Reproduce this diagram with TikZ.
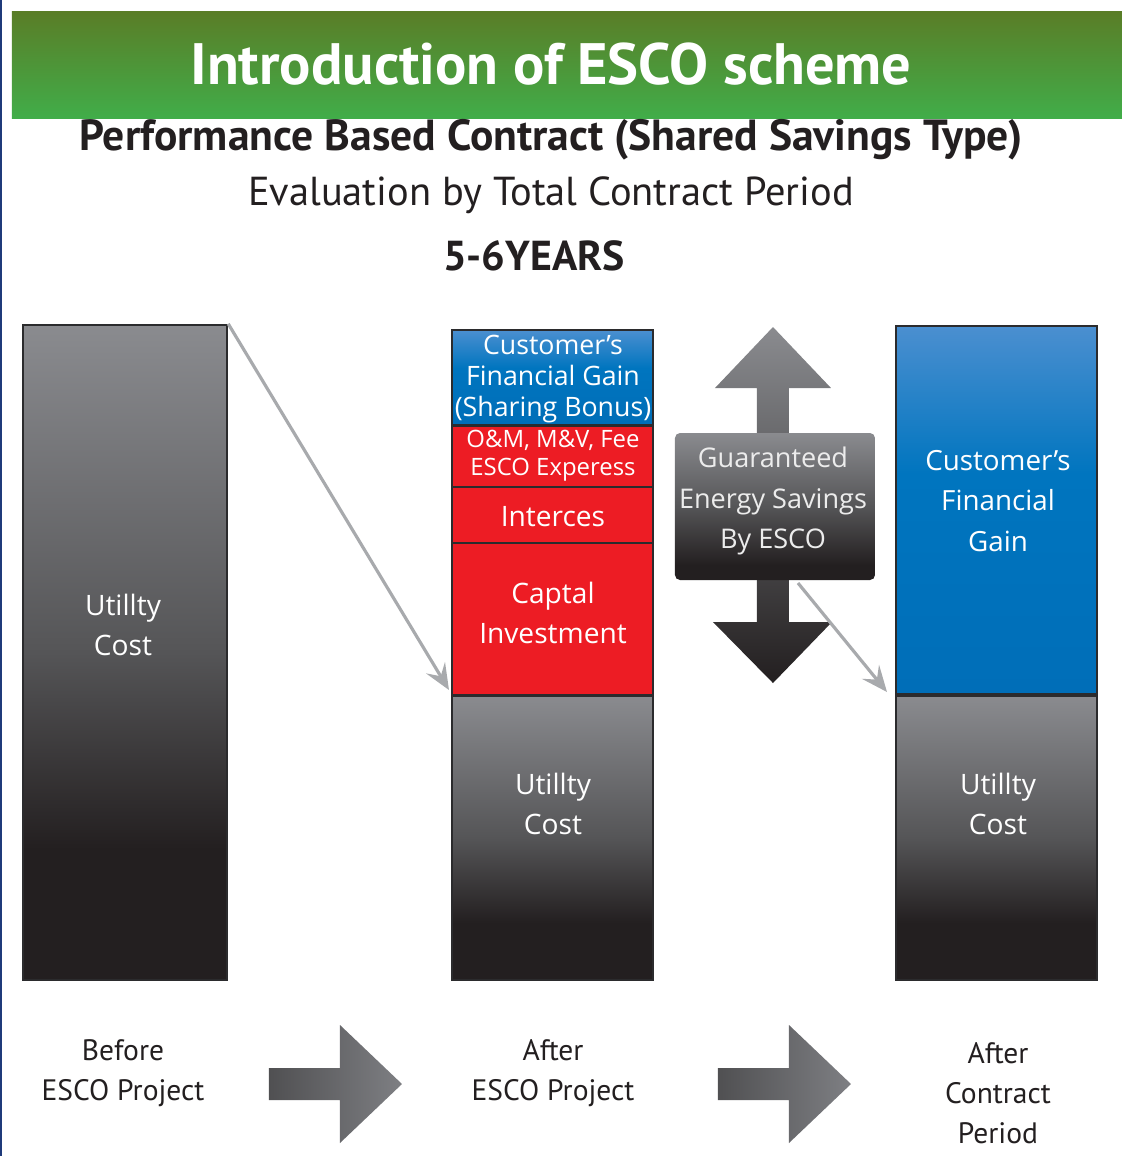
\documentclass[tikz,border=0pt]{standalone}
\usepackage{fontspec}
\setmainfont{Open Sans}
\newfontfamily\headfont{PT Sans}
\usetikzlibrary{arrows.meta,fit}

\definecolor{inkdark}{HTML}{231F20}
\definecolor{bannertop}{HTML}{5A7D27}
\definecolor{bannerbot}{HTML}{41AD49}
\definecolor{bartop}{HTML}{8A8B8F}
\definecolor{barmid}{HTML}{555557}
\definecolor{bardark}{HTML}{231F20}
\definecolor{barline}{HTML}{2B2B2D}
\definecolor{bluetop}{HTML}{4B8FD0}
\definecolor{bluemid}{HTML}{0075BF}
\definecolor{bluebot}{HTML}{006EB8}
\definecolor{escored}{HTML}{ED1C24}
\definecolor{arrowgray}{HTML}{A8AAAD}
\definecolor{stepdark}{HTML}{505052}
\definecolor{steplight}{HTML}{7E7F83}
\definecolor{edgenavy}{HTML}{1F3A7A}
\definecolor{softwhite}{HTML}{ECECEC}

\pgfdeclareverticalshading{barshade}{100bp}{color(0bp)=(bardark); color(35bp)=(bardark); color(50bp)=(barmid); color(75bp)=(bartop); color(100bp)=(bartop)}
\pgfdeclareverticalshading{blueshade}{100bp}{color(0bp)=(bluebot); color(25bp)=(bluebot); color(55bp)=(bluemid); color(75bp)=(bluetop); color(100bp)=(bluetop)}
\pgfdeclareverticalshading{boxshade}{100bp}{color(0bp)=(bardark); color(30bp)=(bardark); color(50bp)=(barmid); color(75bp)=(bartop); color(100bp)=(bartop)}

\begin{document}
\begin{tikzpicture}[x=0.01cm,y=-0.01cm]
   \tikzstyle{bar}=[inner sep=0pt, draw=barline, line width=0.7pt]
   \tikzstyle{barText}=[text=white, align=center, font=\fontsize{8}{11.4}\selectfont]
   \tikzstyle{darkText}=[text=inkdark, align=center]
   \tikzstyle{stageText}=[darkText, font=\headfont\fontsize{8.4}{11.4}\selectfont]
   \tikzstyle{thinArrow}=[draw=arrowgray, line width=0.9pt, -{Stealth[length=0.26cm,width=0.22cm,inset=0.1cm]}]
   \useasboundingbox (0,0) rectangle (1130,1156);
   \draw[edgenavy, line width=0.6pt] (1,0) -- (1,1156);

   % header
   \node[fit={(12,11) (1122,118)}, inner sep=0pt, top color=bannertop, bottom color=bannerbot] (banner) {};
   \node[text=white, font=\headfont\bfseries\fontsize{16.6}{18}\selectfont] (title) at (551,64) {Introduction of ESCO scheme};
   \node[darkText, font=\headfont\bfseries\fontsize{12.4}{14}\selectfont] (contract) at (551,140) {Performance Based Contract (Shared Savings Type)};
   \node[darkText, font=\headfont\fontsize{11.5}{13}\selectfont] (evaluation) at (551,195) {Evaluation by Total Contract Period};
   \node[darkText, font=\headfont\bfseries\fontsize{11.9}{13}\selectfont] (years) at (534,256) {5-6YEARS};

   % before the project
   \node[bar, shading=barshade, fit={(23,325) (227,980)}] (before) {};
   \node[barText] (beforeText) at (123,625) {Utillty\\Cost};

   % after the project
   \node[bar, shading=blueshade, fit={(452,330) (653,425)}] (bonus) {};
   \node[bar, fill=escored, fit={(452,426) (653,487)}] (fee) {};
   \node[bar, fill=escored, fit={(452,487) (653,543)}] (interest) {};
   \node[bar, fill=escored, fit={(452,543) (653,695)}] (capital) {};
   \node[bar, shading=barshade, fit={(452,696) (653,980)}] (after) {};
   \node[barText, font=\fontsize{7.6}{8.8}\selectfont] (bonusText) at (553,379) {Customer’s\\Financial Gain\\(Sharing Bonus)};
   \node[barText, font=\fontsize{6.8}{8}\selectfont] (feeText) at (553,456) {O\&M, M\&V, Fee\\ESCO Experess};
   \node[barText] (interestText) at (553,517) {Interces};
   \node[barText] (capitalText) at (553,613) {Captal\\Investment};
   \node[barText] (afterText) at (553,804) {Utillty\\Cost};

   % after the contract period
   \node[bar, shading=blueshade, fit={(896,326) (1097,694)}] (gain) {};
   \node[bar, shading=barshade, fit={(896,696) (1097,980)}] (period) {};
   \node[barText, font=\fontsize{7.9}{11.4}\selectfont] (gainText) at (998,501) {Customer’s\\Financial\\Gain};
   \node[barText] (periodText) at (998,804) {Utillty\\Cost};

   % guaranteed savings
   \path[top color=bartop, bottom color=bardark, middle color=barmid] (773,327) -- (831,388) -- (789,388) -- (789,622) -- (832,622) -- (773,683) -- (713,622) -- (757,622) -- (757,388) -- (715,388) -- cycle;
   \node[fit={(675,433) (875,580)}, inner sep=0pt, rounded corners=0.05cm, shading=boxshade] (savings) {};
   \node[text=softwhite, align=center, font=\fontsize{7.7}{11.4}\selectfont] (savingsText) at (773,501) {Guaranteed\\Energy Savings\\By ESCO};

   \coordinate (fromBox) at (798,583);
   \coordinate (toAfter) at (449,690);
   \coordinate (toPeriod) at (887,692);
   \draw[thinArrow] (before.north east) -- (toAfter);
   \draw[thinArrow] (fromBox) -- (toPeriod);

   % stages
   \foreach \x in {269,718} {
       \path[left color=stepdark, right color=steplight] (\x,1068) -- (\x+71,1068) -- (\x+71,1025) -- (\x+133,1084) -- (\x+71,1143) -- (\x+71,1100) -- (\x,1100) -- cycle;
   }
   \node[stageText] (stageBefore) at (123,1073) {Before\\ESCO Project};
   \node[stageText] (stageAfter) at (553,1073) {After\\ESCO Project};
   \node[stageText] (stagePeriod) at (998,1093) {After\\Contract\\Period};
\end{tikzpicture}
\end{document}
